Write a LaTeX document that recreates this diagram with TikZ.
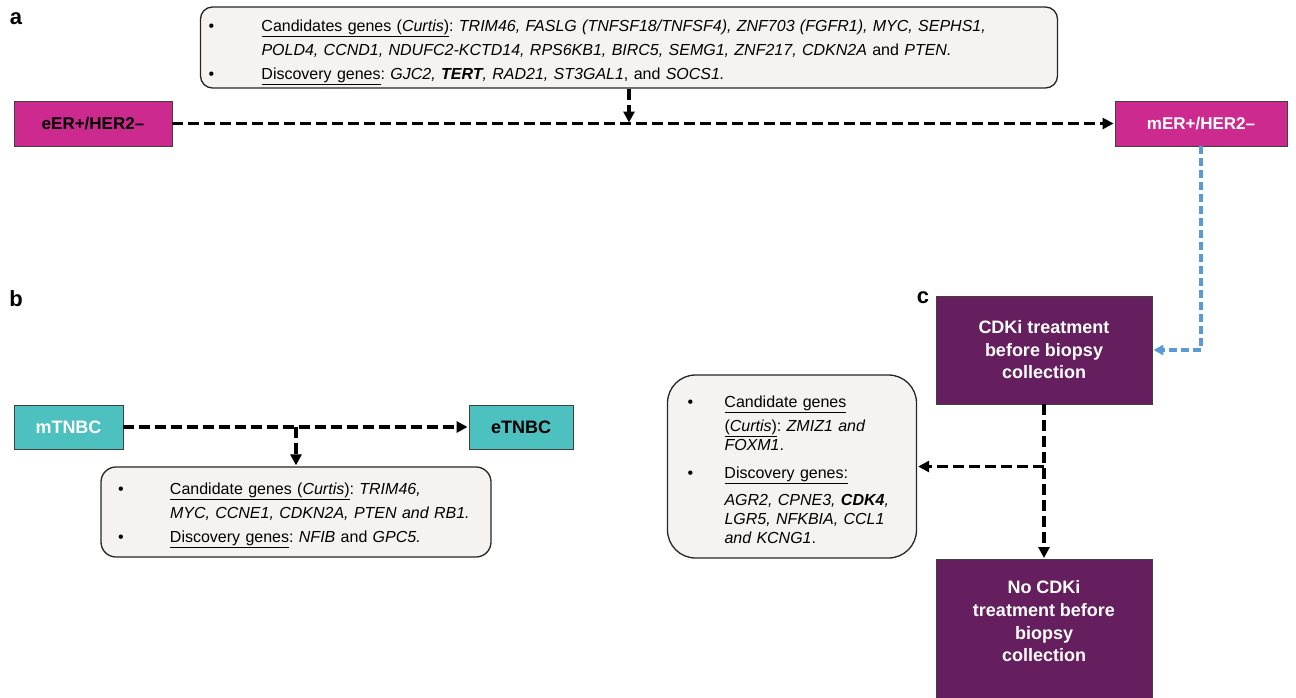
\documentclass[tikz,border=0pt]{standalone}
\usepackage{fontspec}
\setmainfont{Liberation Sans}
\usetikzlibrary{arrows.meta}
\definecolor{ermagenta}{RGB}{204,42,143}
\definecolor{tnbcteal}{RGB}{77,192,192}
\definecolor{cdkpurple}{RGB}{101,30,94}
\definecolor{listgrey}{RGB}{244,243,241}
\definecolor{linkblue}{RGB}{91,155,213}
\newcommand{\bul}[1]{\makebox[#1][l]{\textbullet}}
\newcommand{\lift}[1]{\rule{0pt}{#1}}
\frenchspacing

\begin{document}
\begin{tikzpicture}[x=1pt,y=-1pt,>={Triangle[length=11pt,width=11pt]},shorten >=1pt,
  sub box/.style={draw=black!75,line width=0.9pt,font=\fontsize{17}{20}\selectfont\bfseries},
  list box/.style={draw=black!85,line width=1.3pt,fill=listgrey,align=left,inner ysep=0pt,font=\fontsize{16}{24}\selectfont},
  flow/.style={->,line width=3.2pt,dash pattern=on 11pt off 5pt},
  blue flow/.style={->,draw=linkblue,line width=3.2pt,dash pattern=on 8pt off 4pt,>={Triangle[length=10pt,width=10pt]}},
  panel/.style={font=\fontsize{22}{22}\selectfont\bfseries}]

            \useasboundingbox (0,0) rectangle (1296,697);

            % a
            \node[panel] (la) at (16,19) {a};
            \node[sub box, fill=ermagenta, minimum width=158pt, minimum height=45pt] (eer) at (93,123.5) {eER+/HER2–};
            \node[sub box, fill=ermagenta, text=white, minimum width=172pt, minimum height=45pt] (mer) at (1201,123.5) {mER+/HER2–};
            \node[list box, rounded corners=12pt, text width=841pt, inner xsep=8pt, minimum height=81pt] (ergenes) at (629,47.5) {%
                \lift{21.5pt}\bul{53pt}\underline{Candidates genes (\textit{Curtis})}: \textit{TRIM46, FASLG (TNFSF18/TNFSF4), ZNF703 (FGFR1), MYC, SEPHS1,}\\
                \hspace*{53pt}\textit{POLD4, CCND1, NDUFC2-KCTD14, RPS6KB1, BIRC5, SEMG1, ZNF217, CDKN2A} and \textit{PTEN.}\\
                \bul{53pt}\underline{Discovery genes}: \textit{GJC2, \textbf{TERT}, RAD21, ST3GAL1}, and \textit{SOCS1.}};

            % b
            \node[panel] (lb) at (16,299) {b};
            \node[sub box, fill=tnbcteal, text=white, font=\fontsize{18}{20}\selectfont\bfseries, minimum width=109pt, minimum height=44pt] (mtnbc) at (68.5,427) {mTNBC};
            \node[sub box, fill=tnbcteal, font=\fontsize{18}{20}\selectfont\bfseries, minimum width=104pt, minimum height=44pt] (etnbc) at (521,427) {eTNBC};
            \node[list box, rounded corners=15pt, text width=356pt, inner xsep=17pt, minimum height=90pt] (tnbcgenes) at (296,512) {%
                \lift{17.7pt}\bul{52pt}\underline{Candidate genes (\textit{Curtis})}: \textit{TRIM46,}\\
                \hspace*{52pt}\textit{MYC, CCNE1, CDKN2A, PTEN and RB1.}\\
                \bul{52pt}\underline{Discovery genes}: \textit{NFIB} and \textit{GPC5.}};

            % c
            \node[panel] (lc) at (923,298) {c};
            \node[sub box, fill=cdkpurple, text=white, align=center, font=\fontsize{18}{22.5}\selectfont\bfseries, minimum width=216pt, minimum height=108pt] (cdki) at (1044,350) {CDKi treatment\\before biopsy\\collection};
            \node[sub box, fill=cdkpurple, anchor=north, minimum width=216pt, minimum height=150pt,
                label={[text=white, align=center, font=\fontsize{18}{22.7}\selectfont\bfseries, yshift=13pt]center:No CDKi\\treatment before\\biopsy\\collection}] (nocdki) at (1044,559) {};
            \node[list box, rounded corners=28pt, text width=209pt, inner xsep=20pt, minimum height=183pt, font=\fontsize{16}{19}\selectfont] (cdkgenes) at (792,466.5) {%
                \lift{17.7pt}\bul{37pt}\underline{Candidate genes}\\[5pt]
                \hspace*{37pt}\underline{(\textit{Curtis})}: \textit{ZMIZ1 and}\\
                \hspace*{37pt}\textit{FOXM1}.\\[9pt]
                \bul{37pt}\underline{Discovery genes:}\\[8pt]
                \hspace*{37pt}\textit{AGR2, CPNE3, \textbf{CDK4},}\\
                \hspace*{37pt}\textit{LGR5, NFKBIA, CCL1}\\
                \hspace*{37pt}\textit{and KCNG1}.};

            \draw[flow] (eer) -- (mer);
            \draw[flow] (ergenes) -- (ergenes |- eer);
            \draw[blue flow] (mer) |- (cdki);
            \draw[flow] (mtnbc) -- (etnbc);
            \draw[flow] (tnbcgenes |- mtnbc) -- (tnbcgenes);
            \draw[flow] (cdki) -- (nocdki);
            \draw[flow] (cdki |- cdkgenes) -- (cdkgenes);
        \end{tikzpicture}
\end{document}
